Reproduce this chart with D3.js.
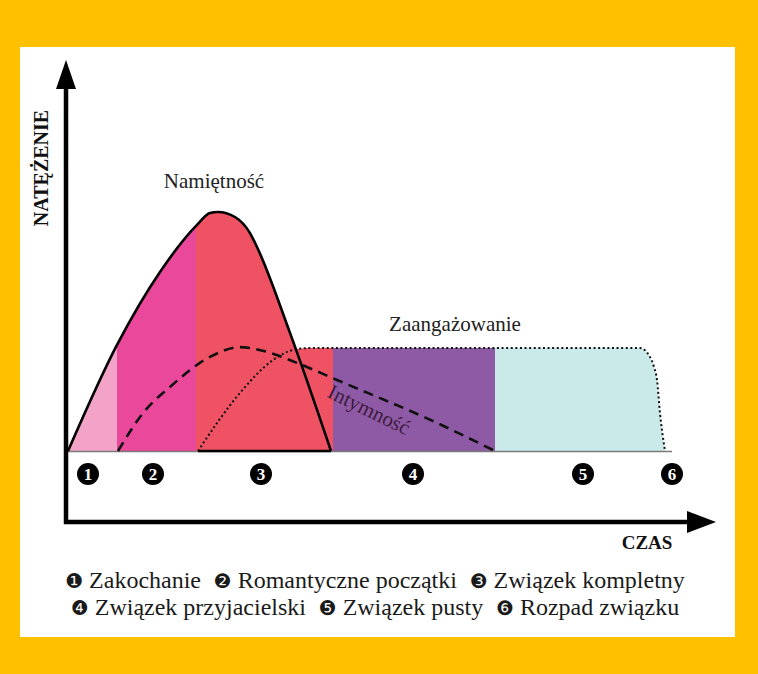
<!DOCTYPE html>
<html>
<head>
<meta charset="utf-8">
<script src="https://cdn.jsdelivr.net/npm/d3@7"></script>
<style>
  html, body { margin: 0; padding: 0; background: #FFC000; }
  svg { display: block; }
</style>
</head>
<body>
<svg id="chart" width="758" height="674"></svg>
<script>
// ---------- DATA (time in arbitrary units, intensity 0-100) ----------
const passionT = [0, 49, 92, 129, 142, 150, 167, 182, 189, 222, 263];
const passionV = [0, 44.2, 74.6, 94.2, 99.2, 99.6, 97.5, 90.8, 85, 49.2, 0];

const intimacyT = [50, 75, 102, 142, 172, 199, 229, 269, 369, 427];
const intimacyV = [0, 15.8, 26.7, 39.2, 43.3, 41.3, 36.7, 29.6, 11.7, 0];

const commitmentT = [130, 172, 205, 225, 242, 572, 582, 586, 589, 592, 597];
const commitmentV = [0, 24.2, 37.9, 42.1, 42.9, 42.9, 39.2, 35, 29.6, 15.8, 0];

const stageBounds = [0, 49, 128, 265, 427, 600];
const stageColors = ["#F3A2C8", "#E9489B", "#EF5363", "#8E5AA6", "#C9EAE9"];
const badgeNums = ["1", "2", "3", "4", "5", "6"];
const badgeT = [20, 85, 193, 345, 515, 604];

const seriesLabels = ["Namiętność", "Zaangażowanie", "Intymność"];
const axisLabels = ["NATĘŻENIE", "CZAS"];
const legendGlyphs = ["❶", "❷", "❸", "❹", "❺", "❻"];
const legendNames = ["Zakochanie", "Romantyczne początki", "Związek kompletny",
                     "Związek przyjacielski", "Związek pusty", "Rozpad związku"];

// ---------- SETUP ----------
const svg = d3.select("#chart");
const serif = "'Liberation Serif', 'DejaVu Serif', serif";

svg.append("rect").attr("x", 0).attr("y", 0).attr("width", 758).attr("height", 674).attr("fill", "#FFC000");
svg.append("rect").attr("x", 20).attr("y", 47).attr("width", 715).attr("height", 590).attr("fill", "#ffffff");

const x = d3.scaleLinear().domain([0, 600]).range([68, 668]);
const y = d3.scaleLinear().domain([0, 100]).range([451, 211]);

const zip = (T, V) => T.map((t, i) => ({ t, v: V[i] }));
const passion = zip(passionT, passionV);
const intimacy = zip(intimacyT, intimacyV);
const commitment = zip(commitmentT, commitmentV);

const curve = d3.curveMonotoneX;
const area = d3.area().x(d => x(d.t)).y0(y(0)).y1(d => y(d.v)).curve(curve);
const line = d3.line().x(d => x(d.t)).y(d => y(d.v)).curve(curve);

// ---------- STAGE FILLS ----------
const defs = svg.append("defs");
stageColors.forEach((c, i) => {
  defs.append("clipPath").attr("id", "stage" + i)
    .append("rect")
    .attr("x", x(stageBounds[i]))
    .attr("y", 0)
    .attr("width", x(stageBounds[i + 1]) - x(stageBounds[i]))
    .attr("height", y(0) + 0.5);
  const g = svg.append("g").attr("clip-path", `url(#stage${i})`);
  [passion, commitment].forEach(series => {
    g.append("path").datum(series).attr("d", area).attr("fill", c);
  });
});

// baseline
svg.append("line")
  .attr("x1", x(0)).attr("x2", x(604))
  .attr("y1", y(0) + 0.5).attr("y2", y(0) + 0.5)
  .attr("stroke", "#7a7a7a").attr("stroke-width", 1.5);

// ---------- LINES ----------
svg.append("path").datum(commitment).attr("d", line)
  .attr("fill", "none").attr("stroke", "#111").attr("stroke-width", 2)
  .attr("stroke-dasharray", "2,2.6");

svg.append("path").datum(intimacy).attr("d", line)
  .attr("fill", "none").attr("stroke", "#111").attr("stroke-width", 2.6)
  .attr("stroke-dasharray", "10,6.5");

svg.append("path").datum(passion).attr("d", line)
  .attr("fill", "none").attr("stroke", "#000").attr("stroke-width", 2.6)
  .attr("stroke-linejoin", "round");

// bottom closing line of the passion shape (from commitment start to passion end)
svg.append("line")
  .attr("x1", x(commitmentT[0])).attr("x2", x(passionT[passionT.length - 1]))
  .attr("y1", y(0)).attr("y2", y(0))
  .attr("stroke", "#000").attr("stroke-width", 2.4);

// ---------- SERIES LABELS ----------
svg.append("text").text(seriesLabels[0])
  .attr("x", 214).attr("y", 188).attr("text-anchor", "middle")
  .attr("font-family", serif).attr("font-size", 21).attr("fill", "#222");
svg.append("text").text(seriesLabels[1])
  .attr("x", 455).attr("y", 331).attr("text-anchor", "middle")
  .attr("font-family", serif).attr("font-size", 21).attr("fill", "#222");
svg.append("text").text(seriesLabels[2])
  .attr("transform", "translate(366,416) rotate(26)")
  .attr("text-anchor", "middle")
  .attr("font-family", serif).attr("font-size", 21).attr("fill", "#3e1c3e");

// ---------- AXES ----------
svg.append("line").attr("x1", 66).attr("x2", 66).attr("y1", 80).attr("y2", 524)
  .attr("stroke", "#000").attr("stroke-width", 4.5);
svg.append("path").attr("d", "M66,60 L76,89 L56,89 Z").attr("fill", "#000");
svg.append("line").attr("x1", 64).attr("x2", 695).attr("y1", 522).attr("y2", 522)
  .attr("stroke", "#000").attr("stroke-width", 4.5);
svg.append("path").attr("d", "M716,522 L687,511 L687,533 Z").attr("fill", "#000");

svg.append("text").text(axisLabels[0])
  .attr("transform", "translate(48,168) rotate(-90)")
  .attr("text-anchor", "middle")
  .attr("font-family", serif).attr("font-weight", "bold").attr("font-size", 20)
  .attr("fill", "#111");
svg.append("text").text(axisLabels[1])
  .attr("x", 647).attr("y", 549).attr("text-anchor", "middle")
  .attr("font-family", serif).attr("font-weight", "bold").attr("font-size", 19)
  .attr("fill", "#111");

// ---------- BADGES ----------
const badges = svg.append("g").selectAll("g").data(badgeNums).join("g")
  .attr("transform", (d, i) => `translate(${x(badgeT[i])},474)`);
badges.append("circle").attr("r", 11).attr("fill", "#000");
badges.append("text").text(d => d)
  .attr("text-anchor", "middle").attr("dy", "0.36em")
  .attr("font-family", serif).attr("font-weight", "bold").attr("font-size", 17)
  .attr("fill", "#fff");

// ---------- LEGEND ----------
const legendRows = [[0, 1, 2], [3, 4, 5]];
const legendY = [588, 615];
const legendX = [375, 375];
legendRows.forEach((row, r) => {
  const t = svg.append("text")
    .attr("x", legendX[r]).attr("y", legendY[r]).attr("text-anchor", "middle")
    .attr("font-family", serif).attr("font-size", 24).attr("fill", "#1a1a1a");
  row.forEach((idx, k) => {
    t.append("tspan").text((k > 0 ? "\u00a0\u00a0" : "") + legendGlyphs[idx])
      .attr("font-family", "'DejaVu Sans', sans-serif").attr("font-size", 20);
    t.append("tspan").text("\u00a0" + legendNames[idx])
      .attr("font-family", serif).attr("font-size", 24);
  });
});
</script>
</body>
</html>
